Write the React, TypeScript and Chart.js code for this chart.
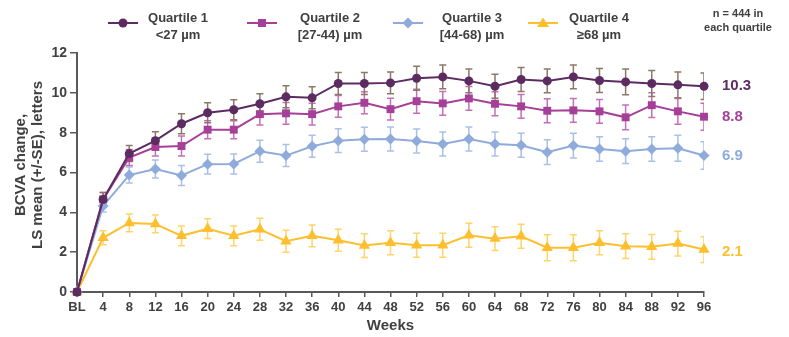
import React, { useEffect, useRef } from "react";
import { Chart, registerables } from "chart.js";

Chart.register(...registerables);

const weeks = ["BL", "4", "8", "12", "16", "20", "24", "28", "32", "36", "40", "44", "48", "52", "56", "60", "64", "68", "72", "76", "80", "84", "88", "92", "96"];

const q1Mean = [0, 4.65, 6.95, 7.6, 8.45, 9.0, 9.15, 9.45, 9.8, 9.75, 10.47, 10.47, 10.5, 10.73, 10.8, 10.6, 10.33, 10.67, 10.6, 10.8, 10.62, 10.55, 10.47, 10.4, 10.33];
const q2Mean = [0, 4.65, 6.75, 7.28, 7.33, 8.15, 8.15, 8.93, 8.97, 8.93, 9.32, 9.5, 9.18, 9.58, 9.47, 9.72, 9.45, 9.32, 9.1, 9.12, 9.07, 8.77, 9.38, 9.07, 8.8];
const q3Mean = [0, 4.32, 5.87, 6.18, 5.85, 6.42, 6.43, 7.07, 6.85, 7.32, 7.6, 7.67, 7.68, 7.58, 7.43, 7.68, 7.43, 7.37, 7.02, 7.35, 7.18, 7.07, 7.18, 7.22, 6.85];
const q4Mean = [0, 2.72, 3.47, 3.42, 2.82, 3.18, 2.82, 3.15, 2.55, 2.82, 2.6, 2.33, 2.47, 2.35, 2.35, 2.85, 2.68, 2.8, 2.22, 2.22, 2.47, 2.3, 2.27, 2.43, 2.13];

const q1Se = [0, 0.35, 0.4, 0.45, 0.5, 0.5, 0.5, 0.5, 0.55, 0.55, 0.55, 0.55, 0.55, 0.6, 0.6, 0.6, 0.6, 0.6, 0.6, 0.6, 0.6, 0.65, 0.65, 0.65, 0.67];
const q2Se = [0, 0.35, 0.4, 0.45, 0.5, 0.45, 0.45, 0.55, 0.55, 0.55, 0.55, 0.55, 0.55, 0.6, 0.6, 0.6, 0.6, 0.6, 0.6, 0.6, 0.6, 0.62, 0.62, 0.65, 0.68];
const q3Se = [0, 0.3, 0.4, 0.45, 0.5, 0.5, 0.5, 0.55, 0.55, 0.55, 0.6, 0.6, 0.6, 0.6, 0.6, 0.6, 0.6, 0.6, 0.62, 0.62, 0.62, 0.62, 0.62, 0.65, 0.69];
const q4Se = [0, 0.35, 0.45, 0.45, 0.5, 0.5, 0.5, 0.55, 0.55, 0.55, 0.55, 0.6, 0.6, 0.6, 0.6, 0.6, 0.6, 0.6, 0.65, 0.65, 0.6, 0.62, 0.62, 0.62, 0.65];

const seriesNames = ["Quartile 1", "Quartile 2", "Quartile 3", "Quartile 4"];
const seriesSubs = ["<27 µm", "[27-44) µm", "[44-68) µm", "≥68 µm"];
const endLabels = ["10.3", "8.8", "6.9", "2.1"];
const noteLines = ["n = 444 in", "each quartile"];
const yTitle = ["BCVA change,", "LS mean (+/-SE), letters"];
const xTitle = "Weeks";

const colors = ["#5c2c61", "#a63f98", "#8eabdc", "#fdbf2d"];
const errColors = ["#8c7866", "#c66fb9", "#aac0e8", "#ffd46a"];
const pointStyles = ["circle", "rect", "rectRot", "triangle"];
const pointRadii = [4.5, 5.6, 5.5, 6.5];
const seList = [q1Se, q2Se, q3Se, q4Se];
const meanList = [q1Mean, q2Mean, q3Mean, q4Mean];

const FONT = "'Liberation Sans', Arial, sans-serif";
const TEXT = "#404040";

const legendPos = [
  { marker: 123, text: 178 },
  { marker: 262, text: 330 },
  { marker: 408, text: 472 },
  { marker: 543, text: 599 },
];

function drawMarker(ctx: CanvasRenderingContext2D, style: string, x: number, y: number, color: string) {
  ctx.fillStyle = color;
  ctx.beginPath();
  if (style === "circle") {
    ctx.arc(x, y, 4.5, 0, Math.PI * 2);
  } else if (style === "rect") {
    ctx.rect(x - 4, y - 4, 8, 8);
  } else if (style === "rectRot") {
    ctx.moveTo(x, y - 5.5);
    ctx.lineTo(x + 5.5, y);
    ctx.lineTo(x, y + 5.5);
    ctx.lineTo(x - 5.5, y);
    ctx.closePath();
  } else {
    ctx.moveTo(x, y - 5.5);
    ctx.lineTo(x + 6, y + 4);
    ctx.lineTo(x - 6, y + 4);
    ctx.closePath();
  }
  ctx.fill();
}

const errorBarPlugin = {
  id: "errorBars",
  beforeDatasetsDraw(chart: any) {
    const { ctx, chartArea, scales } = chart;
    ctx.save();
    ctx.beginPath();
    ctx.rect(chartArea.left - 20, chartArea.top - 30, chartArea.right - chartArea.left + 20, chartArea.bottom - chartArea.top + 60);
    ctx.clip();
    for (let d = meanList.length - 1; d >= 0; d--) {
      const means = meanList[d];
      const ses = seList[d];
      ctx.strokeStyle = errColors[d];
      ctx.lineWidth = 1.5;
      for (let i = 0; i < means.length; i++) {
        if (!ses[i]) continue;
        const x = scales.x.getPixelForValue(i);
        const yt = scales.y.getPixelForValue(means[i] + ses[i]);
        const yb = scales.y.getPixelForValue(means[i] - ses[i]);
        ctx.beginPath();
        ctx.moveTo(x, yt);
        ctx.lineTo(x, yb);
        ctx.moveTo(x - 3.5, yt);
        ctx.lineTo(x + 3.5, yt);
        ctx.moveTo(x - 3.5, yb);
        ctx.lineTo(x + 3.5, yb);
        ctx.stroke();
      }
    }
    ctx.restore();
  },
};

const annotationsPlugin = {
  id: "annotations",
  afterDraw(chart: any) {
    const { ctx, scales } = chart;
    ctx.save();
    // legend
    ctx.textAlign = "center";
    ctx.textBaseline = "middle";
    for (let i = 0; i < seriesNames.length; i++) {
      const p = legendPos[i];
      ctx.strokeStyle = colors[i];
      ctx.lineWidth = 2;
      ctx.beginPath();
      ctx.moveTo(p.marker - 15, 23);
      ctx.lineTo(p.marker + 15, 23);
      ctx.stroke();
      drawMarker(ctx, pointStyles[i], p.marker, 23, colors[i]);
      ctx.fillStyle = TEXT;
      ctx.font = `bold 13px ${FONT}`;
      ctx.fillText(seriesNames[i], p.text, 18);
      ctx.fillText(seriesSubs[i], p.text, 35);
    }
    ctx.font = `bold 11px ${FONT}`;
    ctx.fillStyle = TEXT;
    ctx.fillText(noteLines[0], 738, 14);
    ctx.fillText(noteLines[1], 738, 28);
    // y axis title (two lines, rotated)
    ctx.save();
    ctx.translate(0, 165);
    ctx.rotate(-Math.PI / 2);
    ctx.font = `bold 15px ${FONT}`;
    ctx.fillStyle = TEXT;
    ctx.textAlign = "center";
    ctx.fillText(yTitle[0], 0, 21);
    ctx.fillText(yTitle[1], 0, 38);
    ctx.restore();
    // end labels
    ctx.textAlign = "left";
    ctx.font = `bold 15px ${FONT}`;
    const last = weeks.length - 1;
    const ys = meanList.map((m) => scales.y.getPixelForValue(m[last]));
    for (let i = 0; i < endLabels.length; i++) {
      ctx.fillStyle = colors[i];
      ctx.fillText(endLabels[i], 722, ys[i] + (i === 3 ? 2 : 0));
    }
    ctx.restore();
  },
};

export default function App() {
  const canvasRef = useRef<HTMLCanvasElement | null>(null);

  useEffect(() => {
    if (!canvasRef.current) return;
    const chart = new Chart(canvasRef.current, {
      type: "line",
      data: {
        labels: weeks,
        datasets: meanList.map((m, i) => ({
          label: seriesNames[i],
          data: m,
          borderColor: colors[i],
          backgroundColor: colors[i],
          borderWidth: 2,
          pointStyle: pointStyles[i] as any,
          pointRadius: pointRadii[i],
          pointBorderWidth: 0,
          pointBackgroundColor: colors[i],
          tension: 0,
          clip: false as any,
        })),
      },
      options: {
        animation: false,
        responsive: true,
        maintainAspectRatio: false,
        layout: { padding: { top: 53, right: 85, left: 0, bottom: 0 } },
        plugins: { legend: { display: false }, tooltip: { enabled: false } },
        scales: {
          x: {
            type: "category",
            offset: false,
            afterFit: (s: any) => {
              s.height = 45;
            },
            grid: { drawOnChartArea: false, drawTicks: true, tickLength: 5, color: "#595959", lineWidth: 1.5 },
            border: { display: true, color: "#595959", width: 2 },
            ticks: { color: TEXT, font: { family: FONT, size: 13, weight: "bold" }, padding: 3, maxRotation: 0, autoSkip: false },
            title: { display: true, text: xTitle, color: TEXT, font: { family: FONT, size: 15, weight: "bold", lineHeight: 1.2 }, padding: { top: 0, bottom: 2 } },
          },
          y: {
            min: 0,
            max: 12,
            afterFit: (s: any) => {
              s.width = 77;
            },
            grid: { drawOnChartArea: false, drawTicks: true, tickLength: 7, color: "#595959", lineWidth: 1.5 },
            border: { display: true, color: "#595959", width: 2 },
            ticks: { stepSize: 2, color: TEXT, font: { family: FONT, size: 14, weight: "bold" }, padding: 3 },
            title: { display: false },
          },
        },
      } as any,
      plugins: [errorBarPlugin, annotationsPlugin],
    });
    return () => chart.destroy();
  }, []);

  return (
    <div style={{ position: "fixed", left: 0, top: 0, width: 789, height: 337, background: "#fff" }}>
      <canvas ref={canvasRef} />
    </div>
  );
}
